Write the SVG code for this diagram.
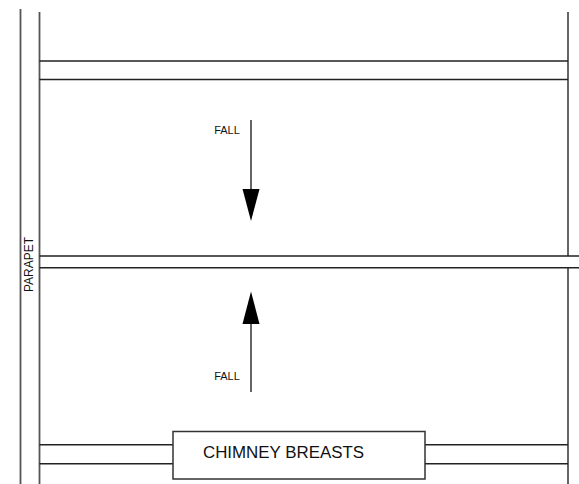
<svg xmlns="http://www.w3.org/2000/svg" width="579" height="484" viewBox="0 0 579 484">
<defs>
<style>
.l{stroke:#222;stroke-width:1.500;fill:none}
.v{stroke:#555;stroke-width:1.800;fill:none}
.f{font-family:"Liberation Sans",Arial,sans-serif;fill:#111}
.s{stroke:#555;stroke-width:1.800;fill:none}
</style>
</defs>
<rect width="579" height="484" fill="#fff"/>
<g id="connectors">
<path class="v" d="M20.500 9V484M39.500 12V484M568 12V256M568 267.700V484"/>
<path class="l" d="M39.500 61H568M39.500 79.500H568M39.500 256H579M39.500 267.700H579M39.500 444.700H173M39.500 463.700H173M425 444.700H568M425 463.700H568"/>
<path class="s" d="M251 120V190"/>
<polygon points="242.500,189 259.500,189 251,221" fill="#000"/>
<path class="s" d="M251 392V322"/>
<polygon points="242.500,324 259.500,324 251,291.500" fill="#000"/>
</g>
<g id="chimney-breasts">
<rect x="173" y="431.500" width="252" height="47.500" fill="#fff" stroke="#333" stroke-width="1.500"/>
<text class="f" x="283.500" y="458" font-size="16.900" text-anchor="middle">CHIMNEY BREASTS</text>
</g>
<g id="parapet">
<text class="f" transform="translate(32.800 264.500) rotate(-90)" font-size="12" text-anchor="middle">PARAPET</text>
</g>
<g id="fall-top">
<text class="f" x="227" y="133.500" font-size="11" text-anchor="middle">FALL</text>
</g>
<g id="fall-bottom">
<text class="f" x="227" y="379.500" font-size="11" text-anchor="middle">FALL</text>
</g>
</svg>
